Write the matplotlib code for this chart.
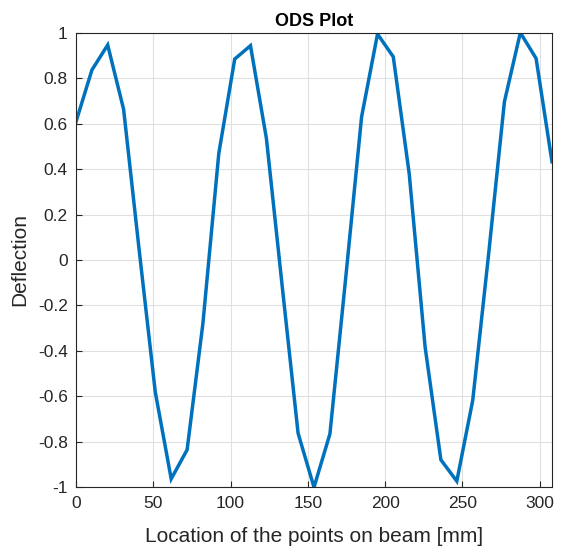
import matplotlib.pyplot as plt

# measured points along the beam and their normalised deflection
location = [0.0, 10.3, 20.5, 30.8, 41.1, 51.3, 61.6, 71.9, 82.1, 92.4,
            102.7, 112.9, 123.2, 133.5, 143.7, 154.0, 164.3, 174.5, 184.8, 195.1,
            205.3, 215.6, 225.9, 236.1, 246.4, 256.7, 266.9, 277.2, 287.5, 297.7,
            308.0]
deflection = [0.608, 0.836, 0.946, 0.663, 0.03, -0.581, -0.963, -0.835, -0.28, 0.469,
              0.884, 0.943, 0.535, -0.12, -0.762, -1.0, -0.765, -0.08, 0.63, 0.994,
              0.894, 0.38, -0.383, -0.879, -0.973, -0.618, 0.02, 0.696, 1.0, 0.887,
              0.432]

xticks = [0, 50, 100, 150, 200, 250, 300]
yticks = [-1, -0.8, -0.6, -0.4, -0.2, 0, 0.2, 0.4, 0.6, 0.8, 1]
ytick_labels = ['-1', '-0.8', '-0.6', '-0.4', '-0.2', '0', '0.2', '0.4', '0.6', '0.8', '1']

plt.rcParams['font.family'] = ['Liberation Sans', 'DejaVu Sans']

fig = plt.figure(figsize=(5.61, 5.52), dpi=100)
ax = fig.add_axes([76 / 561, 64.7 / 552, 476 / 561, 454.6 / 552])

ax.plot(location, deflection, color='#0072BD', linewidth=2.5, solid_joinstyle='miter')

ax.set_xlim(0, location[-1])
ax.set_ylim(-1, 1)
ax.set_xticks(xticks)
ax.set_yticks(yticks)
ax.set_yticklabels(ytick_labels)

ax.grid(True, color='#e0e0e0', linewidth=0.8)
ax.set_axisbelow(True)
ax.tick_params(direction='in', length=4, width=0.8, colors='#262626', labelsize=12.5, pad=6)
for s in ax.spines.values():
    s.set_color('#262626')
    s.set_linewidth(0.8)

ax.set_title('ODS Plot', fontsize=13, fontweight='bold', color='black', pad=5)
ax.set_xlabel('Location of the points on beam [mm]', fontsize=15, color='#262626', labelpad=12)
ax.set_ylabel('Deflection', fontsize=15, color='#262626', labelpad=6)

fig.savefig('out.png', dpi=100)
